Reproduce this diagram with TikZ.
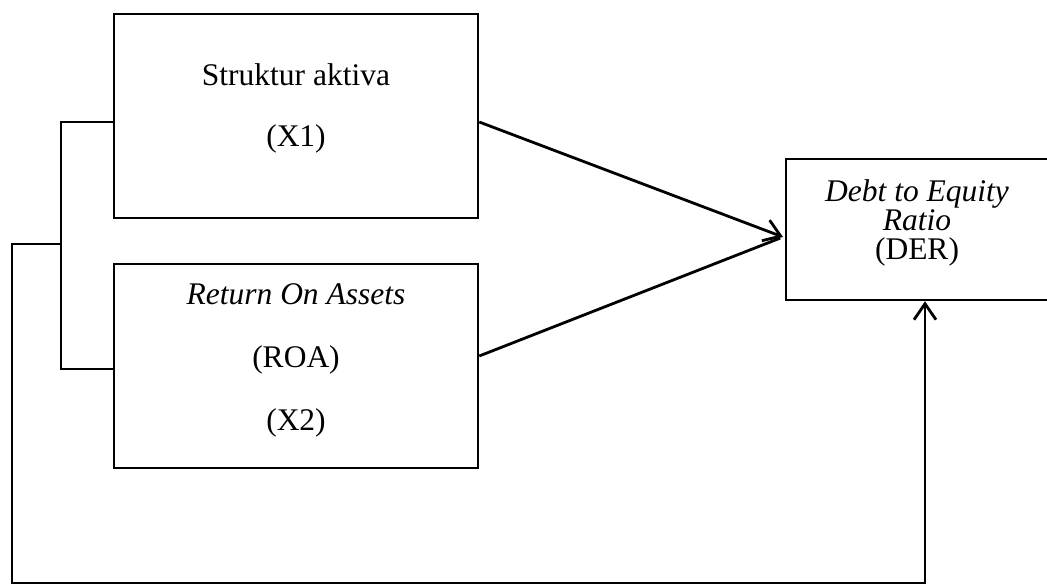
\documentclass[tikz,border=0pt]{standalone}
\usepackage{fontspec}
\setmainfont{Liberation Serif}
\usetikzlibrary{arrows.meta}

\begin{document}
\begin{tikzpicture}[x=1pt,y=-1pt,
  varbox/.style={draw,line width=2.5pt,inner sep=0pt},
  txt/.style={anchor=base,inner sep=0pt,font=\fontsize{31.5}{36}\selectfont},
  link/.style={line width=2.8pt},
  tip/.style={-{Straight Barb[length=16pt,width=22pt]}}]
\useasboundingbox (0,0) rectangle (1047,585);
\node[varbox,minimum width=364pt,minimum height=204pt] (x1) at (296,116) {};
\node[varbox,minimum width=364pt,minimum height=204pt] (x2) at (296,366) {};
\node[varbox,minimum width=320pt,minimum height=141pt] (der) at (946,229.5) {};
\node[txt] (x1a) at (296,86) {Struktur aktiva};
\node[txt] (x1b) at (296,147) {(X1)};
\node[txt] (x2a) at (296,305) {\itshape Return On Assets};
\node[txt] (x2b) at (296,367) {(ROA)};
\node[txt] (x2c) at (296,430) {(X2)};
\node[txt] (dera) at (917,202) {\itshape Debt to Equity};
\node[txt] (derb) at (917,231) {\itshape Ratio};
\node[txt] (derc) at (917,260) {(DER)};
\coordinate (fork) at (61,244);
\coordinate (corner) at (12,583);
\coordinate (meet) at (783,237);
\draw[link] ([yshift=-6pt]x1.west) -| (fork) |- ([yshift=-3pt]x2.west);
\draw[link,tip] (fork) -| (corner) -| ([xshift=-21pt]der.south);
\draw[link,tip] ([yshift=-6pt]x1.east) -- (meet);
\draw[link,shorten >=3pt] ([yshift=10pt]x2.east) -- (meet);
\end{tikzpicture}
\end{document}
